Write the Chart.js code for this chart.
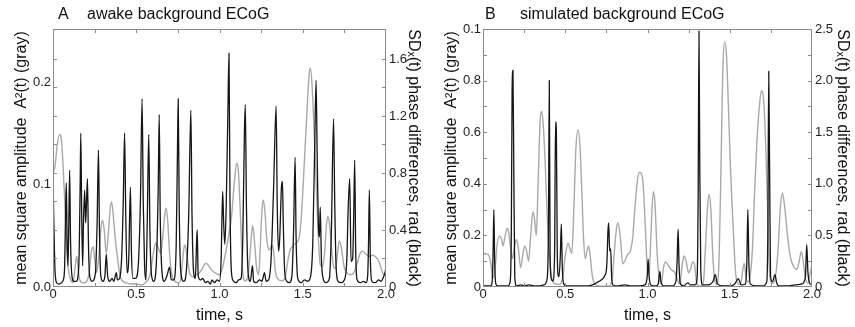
<!DOCTYPE html>
<html>
<head>
<meta charset="utf-8">
<script src="https://cdn.jsdelivr.net/npm/chart.js@4.4.1/dist/chart.umd.min.js"></script>
<style>
  body { margin: 0; background: #fff; }
  .panel { position: absolute; top: 0; }
</style>
</head>
<body>
<canvas id="chartA" class="panel" width="427" height="327" style="left:0px"></canvas>
<canvas id="chartB" class="panel" width="428" height="327" style="left:427px"></canvas>
<script>
// ---- data: [time s, value] ----
// A: awake background ECoG
var awakeAmp = [
  [0.000,0.111],[0.012,0.118],[0.025,0.138],[0.040,0.149],[0.050,0.145],[0.060,0.120],[0.072,0.078],[0.082,0.040],
  [0.092,0.017],[0.105,0.008],[0.120,0.004],[0.132,0.018],[0.142,0.030],[0.150,0.020],[0.160,0.007],[0.180,0.004],
  [0.200,0.005],[0.215,0.012],[0.232,0.036],[0.242,0.039],[0.252,0.025],[0.262,0.014],[0.275,0.030],[0.288,0.058],
  [0.298,0.065],[0.308,0.055],[0.320,0.033],[0.332,0.052],[0.344,0.078],[0.352,0.083],[0.362,0.070],[0.375,0.045],
  [0.388,0.028],[0.400,0.013],[0.412,0.007],[0.440,0.004],[0.470,0.003],[0.500,0.003],[0.530,0.002],[0.560,0.005],
  [0.583,0.012],[0.600,0.030],[0.612,0.041],[0.620,0.043],[0.632,0.038],[0.647,0.033],[0.660,0.050],[0.672,0.072],
  [0.680,0.077],[0.690,0.062],[0.700,0.033],[0.712,0.014],[0.725,0.007],[0.760,0.004],[0.775,0.020],[0.786,0.038],
  [0.793,0.041],[0.803,0.032],[0.820,0.014],[0.840,0.010],[0.860,0.012],[0.880,0.014],[0.900,0.019],[0.915,0.023],
  [0.930,0.022],[0.950,0.017],[0.980,0.013],[1.000,0.012],[1.020,0.020],[1.035,0.032],[1.055,0.050],[1.073,0.070],
  [1.088,0.100],[1.103,0.121],[1.113,0.114],[1.127,0.065],[1.140,0.013],[1.155,0.006],[1.170,0.010],[1.185,0.035],
  [1.199,0.060],[1.210,0.045],[1.222,0.020],[1.235,0.012],[1.245,0.040],[1.255,0.075],[1.262,0.085],[1.272,0.075],
  [1.285,0.045],[1.300,0.036],[1.315,0.041],[1.325,0.035],[1.335,0.016],[1.350,0.008],[1.375,0.006],[1.395,0.010],
  [1.410,0.025],[1.422,0.035],[1.440,0.040],[1.460,0.043],[1.478,0.048],[1.490,0.065],[1.500,0.092],[1.512,0.130],
  [1.525,0.170],[1.537,0.205],[1.545,0.214],[1.555,0.200],[1.565,0.165],[1.580,0.105],[1.593,0.050],[1.605,0.022],
  [1.620,0.020],[1.632,0.035],[1.642,0.060],[1.650,0.069],[1.660,0.062],[1.672,0.040],[1.685,0.020],[1.698,0.018],
  [1.710,0.035],[1.720,0.045],[1.732,0.038],[1.748,0.020],[1.765,0.014],[1.790,0.012],[1.810,0.015],[1.830,0.025],
  [1.845,0.033],[1.860,0.035],[1.880,0.032],[1.900,0.030],[1.920,0.031],[1.940,0.029],[1.960,0.024],[1.975,0.016],
  [1.988,0.012],[2.000,0.020]
];
var awakePhase = [
  [0.000,0.78],[0.005,0.45],[0.012,0.12],[0.022,0.03],[0.035,0.02],[0.050,0.03],[0.062,0.05],[0.070,0.15],
  [0.076,0.55],[0.080,0.73],[0.085,0.30],[0.090,0.15],[0.095,0.45],[0.100,0.82],[0.105,0.35],[0.112,0.10],
  [0.125,0.04],[0.140,0.04],[0.155,0.15],[0.163,0.70],[0.167,1.08],[0.172,0.55],[0.178,0.15],[0.183,0.45],
  [0.190,0.68],[0.196,0.45],[0.202,0.62],[0.207,0.76],[0.213,0.30],[0.220,0.08],[0.235,0.04],[0.255,0.10],
  [0.265,0.45],[0.273,0.96],[0.279,0.40],[0.287,0.08],[0.300,0.04],[0.312,0.08],[0.320,0.23],[0.328,0.08],
  [0.340,0.04],[0.355,0.06],[0.365,0.04],[0.380,0.10],[0.387,0.05],[0.400,0.06],[0.412,0.20],[0.422,0.60],
  [0.430,1.08],[0.437,0.50],[0.445,0.10],[0.455,0.20],[0.465,0.70],[0.471,0.25],[0.480,0.06],[0.495,0.06],
  [0.510,0.12],[0.525,0.60],[0.535,1.32],[0.542,0.60],[0.550,0.15],[0.558,0.05],[0.566,0.45],[0.575,1.07],
  [0.582,0.40],[0.592,0.08],[0.605,0.04],[0.620,0.15],[0.632,0.70],[0.638,1.21],[0.644,0.50],[0.655,0.10],
  [0.668,0.04],[0.685,0.08],[0.700,0.14],[0.710,0.05],[0.725,0.05],[0.740,0.30],[0.748,1.00],[0.752,1.32],
  [0.758,0.55],[0.768,0.10],[0.785,0.04],[0.800,0.10],[0.815,0.50],[0.828,1.24],[0.835,0.50],[0.845,0.10],
  [0.855,0.06],[0.862,0.30],[0.866,0.40],[0.872,0.08],[0.885,0.05],[0.900,0.06],[0.915,0.03],[0.930,0.04],
  [0.945,0.02],[0.955,0.05],[0.970,0.03],[0.985,0.05],[1.000,0.04],[1.010,0.20],[1.019,0.67],[1.025,0.45],
  [1.032,0.30],[1.040,0.55],[1.050,1.20],[1.057,1.64],[1.063,0.60],[1.072,0.10],[1.085,0.04],[1.100,0.03],
  [1.115,0.05],[1.130,0.06],[1.140,0.35],[1.150,1.10],[1.155,1.28],[1.162,0.55],[1.172,0.10],[1.185,0.04],
  [1.198,0.15],[1.205,0.04],[1.220,0.03],[1.240,0.05],[1.255,0.04],[1.270,0.10],[1.280,0.04],[1.295,0.05],
  [1.310,0.20],[1.325,0.70],[1.340,1.27],[1.347,0.55],[1.355,0.25],[1.362,0.35],[1.372,0.70],[1.378,0.74],
  [1.383,0.45],[1.392,0.10],[1.405,0.04],[1.420,0.03],[1.435,0.08],[1.445,0.40],[1.454,0.91],[1.460,0.35],
  [1.470,0.06],[1.490,0.03],[1.510,0.05],[1.530,0.04],[1.548,0.08],[1.560,0.30],[1.572,1.00],[1.580,1.45],
  [1.587,0.90],[1.595,0.40],[1.600,0.35],[1.605,0.56],[1.612,0.20],[1.622,0.06],[1.640,0.03],[1.660,0.06],
  [1.672,0.40],[1.685,1.18],[1.692,0.60],[1.700,0.15],[1.712,0.04],[1.730,0.03],[1.750,0.05],[1.765,0.20],
  [1.772,0.52],[1.782,0.76],[1.790,0.18],[1.800,0.20],[1.806,0.50],[1.812,0.89],[1.818,0.25],[1.827,0.05],
  [1.845,0.03],[1.865,0.04],[1.880,0.03],[1.890,0.08],[1.895,0.30],[1.900,0.68],[1.906,0.20],[1.915,0.04],
  [1.935,0.03],[1.955,0.05],[1.970,0.04],[1.985,0.07],[2.000,0.12]
];

// B: simulated background ECoG
var simAmp = [
  [0.000,0.120],[0.010,0.130],[0.025,0.128],[0.040,0.115],[0.050,0.080],[0.060,0.035],[0.072,0.060],[0.085,0.160],
  [0.100,0.198],[0.112,0.185],[0.122,0.160],[0.135,0.200],[0.148,0.228],[0.157,0.210],[0.166,0.160],[0.178,0.110],
  [0.190,0.150],[0.203,0.184],[0.215,0.150],[0.229,0.075],[0.241,0.120],[0.253,0.158],[0.265,0.140],[0.277,0.100],
  [0.290,0.200],[0.304,0.292],[0.314,0.260],[0.324,0.200],[0.335,0.400],[0.347,0.640],[0.357,0.680],[0.367,0.620],
  [0.378,0.480],[0.390,0.280],[0.405,0.110],[0.420,0.030],[0.440,0.012],[0.465,0.010],[0.485,0.040],[0.500,0.120],
  [0.517,0.170],[0.528,0.150],[0.540,0.130],[0.552,0.300],[0.565,0.540],[0.578,0.610],[0.590,0.540],[0.602,0.350],
  [0.612,0.180],[0.622,0.110],[0.632,0.140],[0.642,0.158],[0.652,0.120],[0.663,0.050],[0.680,0.012],[0.710,0.003],
  [0.760,0.003],[0.785,0.030],[0.800,0.150],[0.812,0.230],[0.822,0.248],[0.835,0.190],[0.850,0.090],[0.862,0.100],
  [0.878,0.125],[0.896,0.140],[0.910,0.190],[0.925,0.320],[0.940,0.420],[0.952,0.445],[0.962,0.440],[0.972,0.410],
  [0.985,0.260],[0.998,0.080],[1.010,0.050],[1.022,0.220],[1.035,0.370],[1.045,0.330],[1.058,0.140],[1.070,0.040],
  [1.085,0.012],[1.097,0.075],[1.110,0.097],[1.125,0.085],[1.145,0.066],[1.165,0.058],[1.182,0.030],[1.196,0.012],
  [1.210,0.080],[1.222,0.120],[1.235,0.100],[1.250,0.055],[1.262,0.070],[1.275,0.097],[1.285,0.090],[1.298,0.020],
  [1.320,0.003],[1.340,0.020],[1.352,0.150],[1.365,0.310],[1.375,0.360],[1.385,0.300],[1.398,0.110],[1.410,0.020],
  [1.420,0.010],[1.432,0.060],[1.445,0.400],[1.458,0.850],[1.469,0.950],[1.480,0.900],[1.492,0.700],[1.505,0.450],
  [1.520,0.240],[1.535,0.060],[1.550,0.012],[1.565,0.010],[1.578,0.060],[1.588,0.092],[1.598,0.040],[1.610,0.020],
  [1.625,0.045],[1.638,0.150],[1.652,0.380],[1.665,0.560],[1.680,0.700],[1.692,0.760],[1.705,0.730],[1.716,0.600],
  [1.728,0.360],[1.738,0.110],[1.750,0.020],[1.765,0.015],[1.782,0.060],[1.795,0.160],[1.808,0.310],[1.820,0.365],
  [1.832,0.320],[1.845,0.240],[1.860,0.150],[1.875,0.100],[1.892,0.075],[1.907,0.068],[1.922,0.100],[1.935,0.137],
  [1.945,0.110],[1.958,0.040],[1.975,0.015],[1.988,0.050],[2.000,0.085]
];
var simPhase = [
  [0.000,0.01],[0.020,0.01],[0.045,0.01],[0.055,0.04],[0.061,0.30],[0.066,0.75],[0.071,0.25],[0.078,0.03],
  [0.090,0.01],[0.120,0.01],[0.150,0.01],[0.165,0.05],[0.172,0.50],[0.177,1.90],[0.182,2.10],[0.187,1.20],
  [0.193,0.10],[0.205,0.01],[0.230,0.02],[0.250,0.01],[0.280,0.02],[0.310,0.01],[0.340,0.01],[0.370,0.02],
  [0.390,0.08],[0.398,0.60],[0.403,2.00],[0.408,0.30],[0.415,0.08],[0.425,0.06],[0.435,0.30],[0.441,1.60],
  [0.446,1.50],[0.451,0.40],[0.456,0.12],[0.462,0.10],[0.470,0.30],[0.476,0.61],[0.482,0.20],[0.490,0.03],
  [0.510,0.01],[0.560,0.01],[0.600,0.01],[0.640,0.01],[0.680,0.03],[0.700,0.05],[0.720,0.07],[0.740,0.11],
  [0.752,0.20],[0.760,0.55],[0.764,0.62],[0.770,0.35],[0.776,0.37],[0.782,0.10],[0.790,0.02],[0.820,0.01],
  [0.860,0.02],[0.900,0.01],[0.950,0.01],[0.985,0.02],[0.998,0.10],[1.004,0.27],[1.010,0.10],[1.020,0.02],
  [1.050,0.01],[1.065,0.03],[1.075,0.15],[1.082,0.05],[1.100,0.01],[1.150,0.01],[1.172,0.05],[1.180,0.25],
  [1.186,0.56],[1.192,0.20],[1.200,0.03],[1.220,0.01],[1.245,0.04],[1.260,0.02],[1.290,0.02],[1.302,0.10],
  [1.308,0.90],[1.313,2.48],[1.318,1.10],[1.324,0.15],[1.335,0.02],[1.370,0.02],[1.400,0.06],[1.412,0.12],
  [1.425,0.03],[1.460,0.01],[1.500,0.01],[1.530,0.03],[1.552,0.08],[1.570,0.02],[1.595,0.03],[1.604,0.25],
  [1.610,0.75],[1.616,0.25],[1.625,0.03],[1.660,0.01],[1.700,0.01],[1.725,0.05],[1.732,0.60],[1.737,2.09],
  [1.742,1.20],[1.748,0.10],[1.760,0.05],[1.775,0.12],[1.785,0.04],[1.800,0.01],[1.850,0.01],[1.900,0.02],
  [1.940,0.03],[1.960,0.10],[1.968,0.41],[1.975,0.15],[1.985,0.04],[2.000,0.02]
];

// ---- tick values and labels ----
var timeTicks = [0, 0.5, 1, 1.5, 2];
var timeLabels = ['0', '0.5', '1.0', '1.5', '2.0'];
var timeMinor = [0.25, 0.5, 0.75, 1, 1.25, 1.5, 1.75];

var awakeAmpTicks = [0, 0.1, 0.2];
var awakeAmpLabels = ['0.0', '0.1', '0.2'];
var awakePhaseTicks = [0, 0.4, 0.8, 1.2, 1.6];
var awakePhaseLabels = ['0', '0.4', '0.8', '1.2', '1.6'];
var awakeEdgeTicks = [0.2, 0.4, 0.6, 0.8, 1.0, 1.2, 1.4, 1.6];

var simAmpTicks = [0, 0.2, 0.4, 0.6, 0.8, 1.0];
var simAmpLabels = ['0', '0.2', '0.4', '0.6', '0.8', '0.1'];
var simPhaseTicks = [0, 0.5, 1, 1.5, 2, 2.5];
var simPhaseLabels = ['0', '0.5', '1.0', '1.5', '2.0', '2.5'];
var simEdgeTicks = [0.25, 0.5, 0.75, 1, 1.25, 1.5, 1.75, 2, 2.25];

var FONT = '"Liberation Sans", Arial, Helvetica, sans-serif';

function toXY(arr) {
    return arr.map(function (p) { return {x: p[0], y: p[1]}; });
}

function fixedTicks(values) {
    return function (scale) {
        scale.ticks = values.map(function (v) { return {value: v}; });
    };
}

function labelFrom(values, labels) {
    return function (value) {
        var i = values.indexOf(value);
        return i >= 0 ? labels[i] : '';
    };
}

function makePanel(p) {
    // frame, inward tick marks and the panel heading
    var framePlugin = {
        id: 'frame' + p.letter,
        afterDatasetsDraw: function (chart) {
            var a = chart.chartArea, ctx = chart.ctx;
            var xs = chart.scales.x, ys = chart.scales.y2;
            ctx.save();
            ctx.strokeStyle = '#8a8a8a';
            ctx.lineWidth = 1;
            ctx.strokeRect(a.left + 0.5, a.top + 0.5, a.right - a.left - 1, a.bottom - a.top - 1);
            ctx.beginPath();
            timeMinor.forEach(function (t) {
                var px = Math.round(xs.getPixelForValue(t)) + 0.5;
                ctx.moveTo(px, a.bottom); ctx.lineTo(px, a.bottom - 4);
                ctx.moveTo(px, a.top); ctx.lineTo(px, a.top + 4);
            });
            p.edgeTicks.forEach(function (v) {
                var py = Math.round(ys.getPixelForValue(v)) + 0.5;
                ctx.moveTo(a.left, py); ctx.lineTo(a.left + 4, py);
                ctx.moveTo(a.right, py); ctx.lineTo(a.right - 4, py);
            });
            ctx.stroke();
            ctx.fillStyle = '#111';
            ctx.font = '16px ' + FONT;
            ctx.textBaseline = 'middle';
            ctx.fillText(p.letter, 58, 15);
            ctx.fillText(p.title, p.titleX, 15);
            ctx.restore();
        }
    };

    return new Chart(document.getElementById(p.canvas), {
        type: 'line',
        data: {
            datasets: [{
                label: 'phase SD',
                data: toXY(p.phase),
                yAxisID: 'y2',
                borderColor: '#151515',
                borderWidth: 1.3,
                pointRadius: 0,
                cubicInterpolationMode: 'monotone',
                order: 0
            }, {
                label: 'amplitude',
                data: toXY(p.amp),
                yAxisID: 'y',
                borderColor: '#a9a9a9',
                borderWidth: 1.4,
                pointRadius: 0,
                cubicInterpolationMode: 'monotone',
                order: 1
            }]
        },
        options: {
            responsive: false,
            animation: false,
            devicePixelRatio: 1,
            layout: { padding: { top: 29, left: 0, right: 0, bottom: 0 } },
            plugins: { legend: { display: false }, tooltip: { enabled: false } },
            scales: {
                x: {
                    type: 'linear', min: 0, max: 2,
                    afterBuildTicks: fixedTicks(timeTicks),
                    afterFit: function (s) { s.height = 40; },
                    grid: { display: false, drawTicks: false },
                    border: { display: false },
                    ticks: { padding: 0, color: '#222', font: { family: FONT, size: 13 },
                             maxRotation: 0, callback: labelFrom(timeTicks, timeLabels) },
                    title: { display: true, text: 'time, s', color: '#111',
                             font: { family: FONT, size: 16 }, padding: { top: 2, bottom: 2 } }
                },
                y: {
                    position: 'left', min: 0, max: p.ampMax,
                    afterBuildTicks: fixedTicks(p.ampTicks),
                    afterFit: function (s) { s.width = p.leftW; },
                    grid: { display: false, drawTicks: false },
                    border: { display: false },
                    ticks: { padding: 2, color: '#222', font: { family: FONT, size: 13 },
                             callback: labelFrom(p.ampTicks, p.ampLabels) },
                    title: { display: true, text: 'mean square amplitude  A\u00B2(t) (gray)', color: '#111',
                             font: { family: FONT, size: 16 }, padding: { top: p.leftPad, bottom: 0 } }
                },
                y2: {
                    position: 'right', min: 0, max: p.phaseMax,
                    afterBuildTicks: fixedTicks(p.phaseTicks),
                    afterFit: function (s) { s.width = p.rightW; },
                    grid: { display: false, drawTicks: false },
                    border: { display: false },
                    ticks: { padding: 3, color: '#222', font: { family: FONT, size: 13 },
                             callback: labelFrom(p.phaseTicks, p.phaseLabels) },
                    title: { display: true, text: 'SD\u2093(t) phase differences, rad (black)', color: '#111',
                             font: { family: FONT, size: 16 }, padding: { top: p.rightPad, bottom: 0 } }
                }
            }
        },
        plugins: [framePlugin]
    });
}

makePanel({
    canvas: 'chartA', letter: 'A', title: 'awake background ECoG', titleX: 87,
    amp: awakeAmp, phase: awakePhase,
    ampMax: 0.252, ampTicks: awakeAmpTicks, ampLabels: awakeAmpLabels,
    phaseMax: 1.81, phaseTicks: awakePhaseTicks, phaseLabels: awakePhaseLabels,
    edgeTicks: awakeEdgeTicks,
    leftW: 53, rightW: 41, leftPad: 12, rightPad: 4
});

makePanel({
    canvas: 'chartB', letter: 'B', title: 'simulated background ECoG', titleX: 93,
    amp: simAmp, phase: simPhase,
    ampMax: 1.0, ampTicks: simAmpTicks, ampLabels: simAmpLabels,
    phaseMax: 2.5, phaseTicks: simPhaseTicks, phaseLabels: simPhaseLabels,
    edgeTicks: simEdgeTicks,
    leftW: 56, rightW: 43, leftPad: 15, rightPad: 3
});
</script>
</body>
</html>
